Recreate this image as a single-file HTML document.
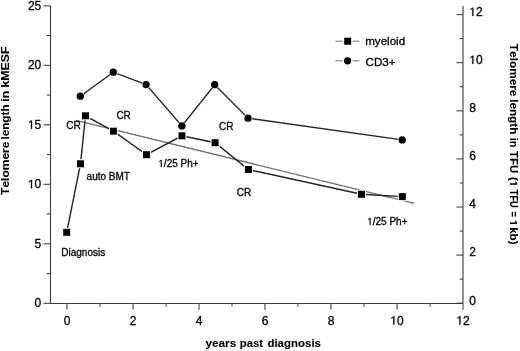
<!DOCTYPE html>
<html><head><meta charset="utf-8"><style>
html,body{margin:0;padding:0;background:#fff;}
body{width:520px;height:351px;overflow:hidden;}
svg{display:block;will-change:transform;}
text{font-family:"Liberation Sans",sans-serif;fill:#000;stroke:#000;stroke-width:0.3px;font-kerning:none;}
.tk{font-size:12px;}
.an{font-size:10px;}
.lg{font-size:11.6px;}
.ti{font-weight:bold;stroke-width:0.1px;}
.one{fill:#000;stroke:#000;stroke-width:0.3px;}
.oneb{fill:#000;stroke:#000;stroke-width:0.1px;}
</style></head><body>
<svg width="520" height="351" viewBox="0 0 520 351">
<rect width="520" height="351" fill="#fff"/>
<line x1="50.5" y1="5.7" x2="50.5" y2="303.5" stroke="#3a3a3a" stroke-width="1.05"/>
<line x1="463" y1="5.7" x2="463" y2="303.5" stroke="#5a5a5a" stroke-width="1.3"/>
<line x1="50" y1="303.5" x2="463" y2="303.5" stroke="#3a3a3a" stroke-width="1.05"/>
<line x1="43.6" y1="303.30" x2="50.5" y2="303.30" stroke="#3a3a3a" stroke-width="1.05"/>
<text x="41.3" y="307.30" class="tk" text-anchor="end">0</text>
<line x1="43.6" y1="243.80" x2="50.5" y2="243.80" stroke="#3a3a3a" stroke-width="1.05"/>
<text x="41.3" y="247.80" class="tk" text-anchor="end">5</text>
<line x1="43.6" y1="184.30" x2="50.5" y2="184.30" stroke="#3a3a3a" stroke-width="1.05"/>
<text x="41.3" y="188.30" class="tk" text-anchor="end"> 0</text>
<line x1="43.6" y1="124.80" x2="50.5" y2="124.80" stroke="#3a3a3a" stroke-width="1.05"/>
<text x="41.3" y="128.80" class="tk" text-anchor="end"> 5</text>
<line x1="43.6" y1="65.30" x2="50.5" y2="65.30" stroke="#3a3a3a" stroke-width="1.05"/>
<text x="41.3" y="69.30" class="tk" text-anchor="end">20</text>
<line x1="43.6" y1="5.80" x2="50.5" y2="5.80" stroke="#3a3a3a" stroke-width="1.05"/>
<text x="41.3" y="9.80" class="tk" text-anchor="end">25</text>
<line x1="46.8" y1="273.55" x2="50.5" y2="273.55" stroke="#3a3a3a" stroke-width="1.05"/>
<line x1="46.8" y1="214.05" x2="50.5" y2="214.05" stroke="#3a3a3a" stroke-width="1.05"/>
<line x1="46.8" y1="154.55" x2="50.5" y2="154.55" stroke="#3a3a3a" stroke-width="1.05"/>
<line x1="46.8" y1="95.05" x2="50.5" y2="95.05" stroke="#3a3a3a" stroke-width="1.05"/>
<line x1="46.8" y1="35.55" x2="50.5" y2="35.55" stroke="#3a3a3a" stroke-width="1.05"/>
<line x1="456.4" y1="303.20" x2="463" y2="303.20" stroke="#3a3a3a" stroke-width="1.05"/>
<text x="469.3" y="304.50" class="tk">0</text>
<line x1="456.4" y1="255.10" x2="463" y2="255.10" stroke="#3a3a3a" stroke-width="1.05"/>
<text x="469.3" y="256.40" class="tk">2</text>
<line x1="456.4" y1="207.00" x2="463" y2="207.00" stroke="#3a3a3a" stroke-width="1.05"/>
<text x="469.3" y="208.30" class="tk">4</text>
<line x1="456.4" y1="158.90" x2="463" y2="158.90" stroke="#3a3a3a" stroke-width="1.05"/>
<text x="469.3" y="160.20" class="tk">6</text>
<line x1="456.4" y1="110.80" x2="463" y2="110.80" stroke="#3a3a3a" stroke-width="1.05"/>
<text x="469.3" y="112.10" class="tk">8</text>
<line x1="456.4" y1="62.70" x2="463" y2="62.70" stroke="#3a3a3a" stroke-width="1.05"/>
<text x="469.3" y="64.00" class="tk"> 0</text>
<line x1="456.4" y1="14.60" x2="463" y2="14.60" stroke="#3a3a3a" stroke-width="1.05"/>
<text x="469.3" y="15.90" class="tk"> 2</text>
<line x1="459.6" y1="279.15" x2="463" y2="279.15" stroke="#3a3a3a" stroke-width="1.05"/>
<line x1="459.6" y1="231.05" x2="463" y2="231.05" stroke="#3a3a3a" stroke-width="1.05"/>
<line x1="459.6" y1="182.95" x2="463" y2="182.95" stroke="#3a3a3a" stroke-width="1.05"/>
<line x1="459.6" y1="134.85" x2="463" y2="134.85" stroke="#3a3a3a" stroke-width="1.05"/>
<line x1="459.6" y1="86.75" x2="463" y2="86.75" stroke="#3a3a3a" stroke-width="1.05"/>
<line x1="459.6" y1="38.65" x2="463" y2="38.65" stroke="#3a3a3a" stroke-width="1.05"/>
<line x1="67.00" y1="303.5" x2="67.00" y2="309.8" stroke="#3a3a3a" stroke-width="1.05"/>
<text x="67.00" y="324.6" class="tk" text-anchor="middle">0</text>
<line x1="133.00" y1="303.5" x2="133.00" y2="309.8" stroke="#3a3a3a" stroke-width="1.05"/>
<text x="133.00" y="324.6" class="tk" text-anchor="middle">2</text>
<line x1="199.00" y1="303.5" x2="199.00" y2="309.8" stroke="#3a3a3a" stroke-width="1.05"/>
<text x="199.00" y="324.6" class="tk" text-anchor="middle">4</text>
<line x1="265.00" y1="303.5" x2="265.00" y2="309.8" stroke="#3a3a3a" stroke-width="1.05"/>
<text x="265.00" y="324.6" class="tk" text-anchor="middle">6</text>
<line x1="331.00" y1="303.5" x2="331.00" y2="309.8" stroke="#3a3a3a" stroke-width="1.05"/>
<text x="331.00" y="324.6" class="tk" text-anchor="middle">8</text>
<line x1="397.00" y1="303.5" x2="397.00" y2="309.8" stroke="#3a3a3a" stroke-width="1.05"/>
<text x="397.00" y="324.6" class="tk" text-anchor="middle"> 0</text>
<line x1="463.00" y1="303.5" x2="463.00" y2="309.8" stroke="#3a3a3a" stroke-width="1.05"/>
<text x="463.00" y="324.6" class="tk" text-anchor="middle"> 2</text>
<line x1="100.00" y1="303.5" x2="100.00" y2="306.8" stroke="#3a3a3a" stroke-width="1.05"/>
<line x1="166.00" y1="303.5" x2="166.00" y2="306.8" stroke="#3a3a3a" stroke-width="1.05"/>
<line x1="232.00" y1="303.5" x2="232.00" y2="306.8" stroke="#3a3a3a" stroke-width="1.05"/>
<line x1="298.00" y1="303.5" x2="298.00" y2="306.8" stroke="#3a3a3a" stroke-width="1.05"/>
<line x1="364.00" y1="303.5" x2="364.00" y2="306.8" stroke="#3a3a3a" stroke-width="1.05"/>
<line x1="430.00" y1="303.5" x2="430.00" y2="306.8" stroke="#3a3a3a" stroke-width="1.05"/>
<line x1="76" y1="120.4" x2="414.3" y2="203.3" stroke="#6e6e6e" stroke-width="1.25"/>
<polyline fill="none" stroke="#222" stroke-width="1.4" points="66.7,232.3 80.5,163.8 85.5,115.8 113.4,131.2 146.5,154.7 182,135.8 215.1,142.7 248.4,169.5 361.5,194.3 402.3,196.6"/>
<polyline fill="none" stroke="#222" stroke-width="1.4" points="80.3,96.2 113.3,72.2 146.1,84.6 181.9,125.9 214.7,84.7 248,118.2 402.2,139.9"/>
<rect x="62.20" y="227.80" width="9.0" height="9.0" fill="#fff"/>
<rect x="63.20" y="228.80" width="7.0" height="7.0" fill="#000"/>
<rect x="76.00" y="159.30" width="9.0" height="9.0" fill="#fff"/>
<rect x="77.00" y="160.30" width="7.0" height="7.0" fill="#000"/>
<rect x="81.00" y="111.30" width="9.0" height="9.0" fill="#fff"/>
<rect x="82.00" y="112.30" width="7.0" height="7.0" fill="#000"/>
<rect x="108.90" y="126.70" width="9.0" height="9.0" fill="#fff"/>
<rect x="109.90" y="127.70" width="7.0" height="7.0" fill="#000"/>
<rect x="142.00" y="150.20" width="9.0" height="9.0" fill="#fff"/>
<rect x="143.00" y="151.20" width="7.0" height="7.0" fill="#000"/>
<rect x="177.50" y="131.30" width="9.0" height="9.0" fill="#fff"/>
<rect x="178.50" y="132.30" width="7.0" height="7.0" fill="#000"/>
<rect x="210.60" y="138.20" width="9.0" height="9.0" fill="#fff"/>
<rect x="211.60" y="139.20" width="7.0" height="7.0" fill="#000"/>
<rect x="243.90" y="165.00" width="9.0" height="9.0" fill="#fff"/>
<rect x="244.90" y="166.00" width="7.0" height="7.0" fill="#000"/>
<rect x="357.00" y="189.80" width="9.0" height="9.0" fill="#fff"/>
<rect x="358.00" y="190.80" width="7.0" height="7.0" fill="#000"/>
<rect x="397.80" y="192.10" width="9.0" height="9.0" fill="#fff"/>
<rect x="398.80" y="193.10" width="7.0" height="7.0" fill="#000"/>
<circle cx="80.3" cy="96.2" r="4.25" fill="#fff"/>
<circle cx="80.3" cy="96.2" r="3.65" fill="#000"/>
<circle cx="113.3" cy="72.2" r="4.25" fill="#fff"/>
<circle cx="113.3" cy="72.2" r="3.65" fill="#000"/>
<circle cx="146.1" cy="84.6" r="4.25" fill="#fff"/>
<circle cx="146.1" cy="84.6" r="3.65" fill="#000"/>
<circle cx="181.9" cy="125.9" r="4.25" fill="#fff"/>
<circle cx="181.9" cy="125.9" r="3.65" fill="#000"/>
<circle cx="214.7" cy="84.7" r="4.25" fill="#fff"/>
<circle cx="214.7" cy="84.7" r="3.65" fill="#000"/>
<circle cx="248" cy="118.2" r="4.25" fill="#fff"/>
<circle cx="248" cy="118.2" r="3.65" fill="#000"/>
<circle cx="402.2" cy="139.9" r="4.25" fill="#fff"/>
<circle cx="402.2" cy="139.9" r="3.65" fill="#000"/>
<line x1="335.5" y1="41.2" x2="359.5" y2="41.2" stroke="#777" stroke-width="1"/>
<rect x="342.7" y="36.2" width="10.0" height="10.0" fill="#fff"/>
<rect x="344.2" y="37.7" width="7.0" height="7.0" fill="#000"/>
<line x1="335.5" y1="60.8" x2="359.5" y2="60.8" stroke="#777" stroke-width="1"/>
<circle cx="347.6" cy="60.8" r="5.15" fill="#fff"/>
<circle cx="347.6" cy="60.8" r="3.65" fill="#000"/>
<text x="365.2" y="45.0" class="lg">myeloid</text>
<text x="365.6" y="65.8" class="lg">CD3+</text>
<text x="61.3" y="255.6" class="an">Diagnosis</text>
<text x="86.6" y="180.3" class="an">auto BMT</text>
<text x="66.2" y="128.9" class="an">CR</text>
<text x="116.4" y="119.2" class="an">CR</text>
<text x="219.1" y="129.7" class="an">CR</text>
<text x="236.8" y="195.5" class="an">CR</text>
<text x="158.3" y="166.9" class="an"> /25 Ph+</text>
<text x="367.2" y="224.8" class="an"> /25 Ph+</text>
<text x="205.41" y="347.3" class="ti" style="font-size:11.5px" textLength="30.77" lengthAdjust="spacingAndGlyphs">years</text>
<text x="239.85" y="347.3" class="ti" style="font-size:11.5px" textLength="23.28" lengthAdjust="spacingAndGlyphs">past</text>
<text x="267.43" y="347.3" class="ti" style="font-size:11.5px" textLength="53.54" lengthAdjust="spacingAndGlyphs">diagnosis</text>
<text transform="translate(9.3,194.93) rotate(-90)" class="ti" style="font-size:11.6px" textLength="53.34" lengthAdjust="spacingAndGlyphs">Telomere</text>
<text transform="translate(9.3,139.62) rotate(-90)" class="ti" style="font-size:11.6px" textLength="35.25" lengthAdjust="spacingAndGlyphs">length</text>
<text transform="translate(9.3,101.65) rotate(-90)" class="ti" style="font-size:11.6px" textLength="10.80" lengthAdjust="spacingAndGlyphs">in</text>
<text transform="translate(9.3,87.56) rotate(-90)" class="ti" style="font-size:11.6px" textLength="41.16" lengthAdjust="spacingAndGlyphs">kMESF</text>
<text transform="translate(510,43.87) rotate(90)" class="ti" style="font-size:11.7px" textLength="52.54" lengthAdjust="spacingAndGlyphs">Telomere</text>
<text transform="translate(510,99.18) rotate(90)" class="ti" style="font-size:11.7px" textLength="35.14" lengthAdjust="spacingAndGlyphs">length</text>
<text transform="translate(510,137.63) rotate(90)" class="ti" style="font-size:11.7px" textLength="9.75" lengthAdjust="spacingAndGlyphs">in</text>
<text transform="translate(510,151.07) rotate(90)" class="ti" style="font-size:11.7px" textLength="22.12" lengthAdjust="spacingAndGlyphs">TFU</text>
<text transform="translate(510,177.05) rotate(90)" class="ti" style="font-size:10.3px" textLength="9.79" lengthAdjust="spacingAndGlyphs">( </text>
<text transform="translate(510,189.80) rotate(90)" class="ti" style="font-size:10.3px" textLength="17.97" lengthAdjust="spacingAndGlyphs">TFU</text>
<text transform="translate(510,211.61) rotate(90)" class="ti" style="font-size:10.3px" textLength="5.47" lengthAdjust="spacingAndGlyphs">=</text>
<text transform="translate(510,219.95) rotate(90)" class="ti" style="font-size:10.3px" textLength="6.07" lengthAdjust="spacingAndGlyphs"> </text>
<text transform="translate(510,227.20) rotate(90)" class="ti" style="font-size:10.3px" textLength="17.28" lengthAdjust="spacingAndGlyphs">kb)</text>
<path class="one" d="M30.964,188.300 L30.964,181.052 L29.097,182.382 L29.097,181.386 L31.052,180.044 L32.027,180.044 L32.027,188.300Z"/>
<path class="one" d="M30.964,128.800 L30.964,121.552 L29.097,122.882 L29.097,121.886 L31.052,120.544 L32.027,120.544 L32.027,128.800Z"/>
<path class="one" d="M472.324,64.000 L472.324,56.752 L470.457,58.082 L470.457,57.086 L472.412,55.744 L473.386,55.744 L473.386,64.000Z"/>
<path class="one" d="M472.324,15.900 L472.324,8.652 L470.457,9.982 L470.457,8.986 L472.412,7.644 L473.386,7.644 L473.386,15.900Z"/>
<path class="one" d="M393.344,324.600 L393.344,317.352 L391.477,318.682 L391.477,317.686 L393.432,316.344 L394.407,316.344 L394.407,324.600Z"/>
<path class="one" d="M459.344,324.600 L459.344,317.352 L457.477,318.682 L457.477,317.686 L459.432,316.344 L460.407,316.344 L460.407,324.600Z"/>
<path class="one" d="M160.815,166.900 L160.815,160.860 L159.262,161.968 L159.262,161.138 L160.888,160.020 L161.699,160.020 L161.699,166.900Z"/>
<path class="one" d="M369.715,224.800 L369.715,218.760 L368.162,219.868 L368.162,219.038 L369.788,217.920 L370.599,217.920 L370.599,224.800Z"/>
<g transform="translate(510,177.05) rotate(90)"><path class="oneb" d="M6.232,0.000 L6.232,-5.884 L4.412,-4.823 L4.412,-5.935 L6.313,-7.086 L7.744,-7.086 L7.744,0.000Z"/></g>
<g transform="translate(510,219.95) rotate(90)"><path class="oneb" d="M2.547,0.000 L2.547,-5.884 L0.746,-4.823 L0.746,-5.935 L2.627,-7.086 L4.045,-7.086 L4.045,0.000Z"/></g>
</svg>
</body></html>
